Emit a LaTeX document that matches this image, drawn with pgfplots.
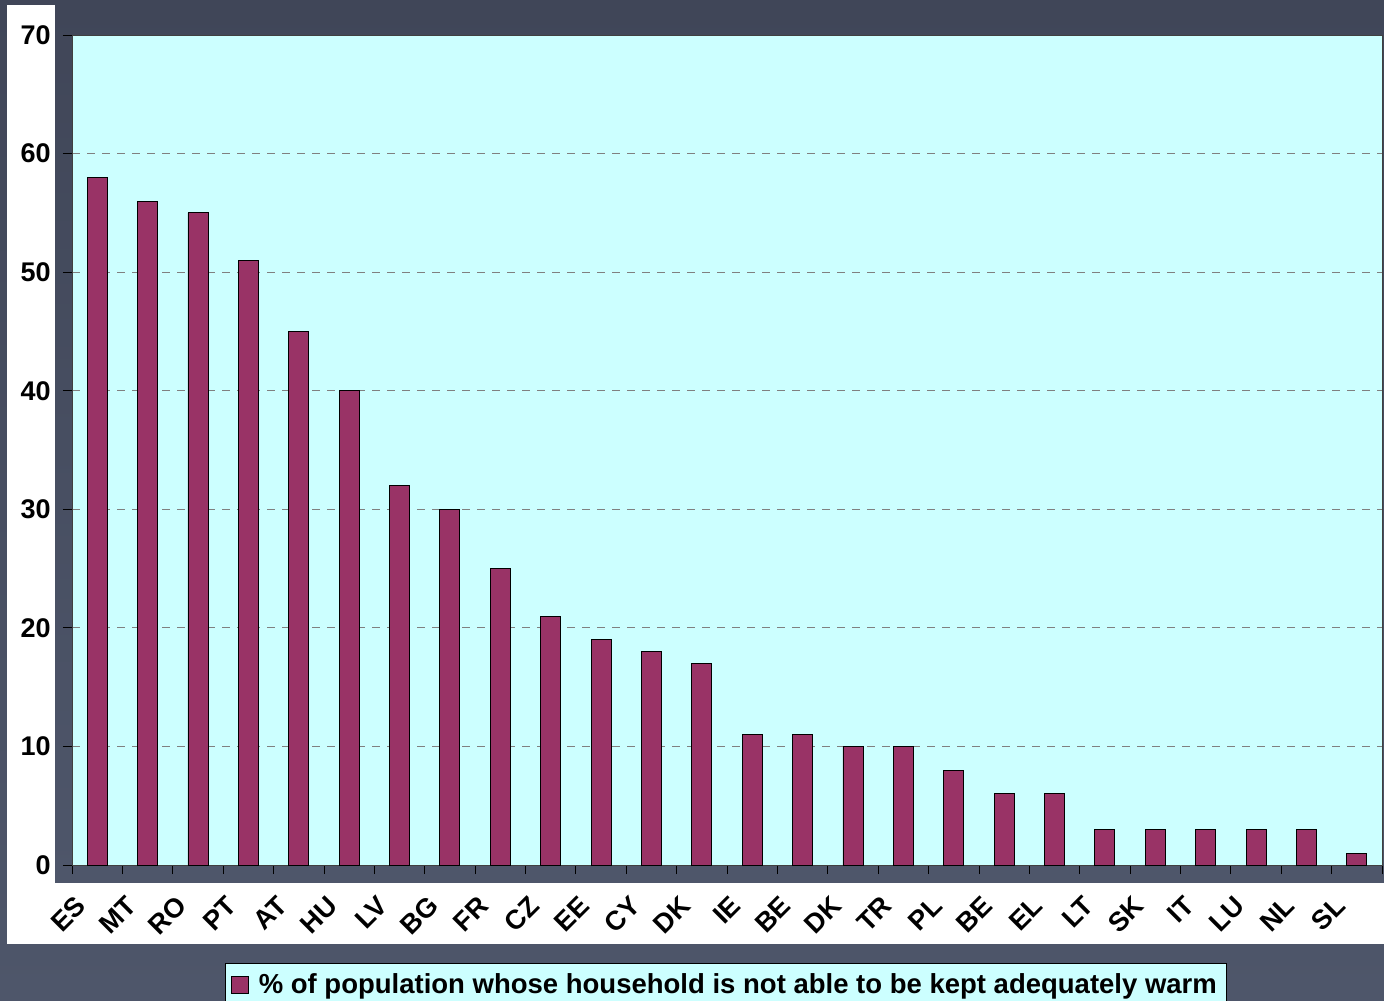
\documentclass[border=0pt]{standalone}
\usepackage{fontspec}
\setmainfont{Liberation Sans}
\usepackage{pgfplots}
\pgfplotsset{compat=1.18}
\definecolor{bgdark}{RGB}{78,86,106}
\definecolor{bgtop}{RGB}{64,70,88}
\definecolor{plotcyan}{RGB}{204,255,255}
\definecolor{barcol}{RGB}{153,51,102}
\begin{document}
\begin{tikzpicture}
\shade[top color=bgtop, bottom color=bgdark] (0bp,0bp) rectangle (692bp,-500.5bp);
\fill[white] (3.5bp,-2.5bp) rectangle (692bp,-472bp);
\shade[top color=bgtop, bottom color=bgdark] (27.5bp,0bp) rectangle (692bp,-441bp);
\begin{axis}[
  at={(36bp,-432.5bp)}, anchor=south west,
  scale only axis, width=655bp, height=415bp,
  xmin=-0.5, xmax=25.5, ymin=0, ymax=70,
  axis background/.style={fill=plotcyan},
  axis line style={black!75},
  ytick={0,10,...,70},
  xtick={-0.5,0.5,...,25.5},
  x tick label as interval,
  xticklabels={ES,MT,RO,PT,AT,HU,LV,BG,FR,CZ,EE,CY,DK,IE,BE,DK,TR,PL,BE,EL,LT,SK,IT,LU,NL,SL},
  tick align=outside, major tick length=4.5bp,
  tick style={black, thin},
  xtick pos=bottom, ytick pos=left,
  ymajorgrids, grid style={gray, thin, dash pattern=on 4bp off 3.5bp},
  /pgf/number format/assume math mode=true,
  ticklabel style={font=\fontsize{13.5bp}{16bp}\selectfont\bfseries},
  yticklabel style={anchor=east, inner sep=0pt, xshift=-6bp},
  xticklabel style={xshift=-11.5bp, yshift=-10bp, rotate=45, anchor=north east, inner sep=0pt},
  ybar, bar width=10bp,
  legend style={at={(0.1168,-0.118)}, anchor=north west, fill=plotcyan, draw=black,
    font=\fontsize{13.75bp}{16bp}\selectfont\bfseries, inner xsep=3bp, inner ysep=3bp},
  legend image code/.code={\draw[fill=barcol,draw=black] (0bp,-4.25bp) rectangle (8.5bp,4.25bp);
    \path[draw=none,fill=none] (0bp,0bp) rectangle (11.5bp,0.1bp);},
]
\addplot[fill=barcol, draw=black] coordinates {
(0,58) (1,56) (2,55) (3,51) (4,45) (5,40) (6,32) (7,30) (8,25) (9,21)
(10,19) (11,18) (12,17) (13,11) (14,11) (15,10) (16,10) (17,8) (18,6) (19,6)
(20,3) (21,3) (22,3) (23,3) (24,3) (25,1)};
\addlegendentry{\% of population whose household is not able to be kept adequately warm}
\end{axis}
\pgfresetboundingbox
\useasboundingbox (0bp,0bp) rectangle (692bp,-500.5bp);
\end{tikzpicture}
\end{document}
